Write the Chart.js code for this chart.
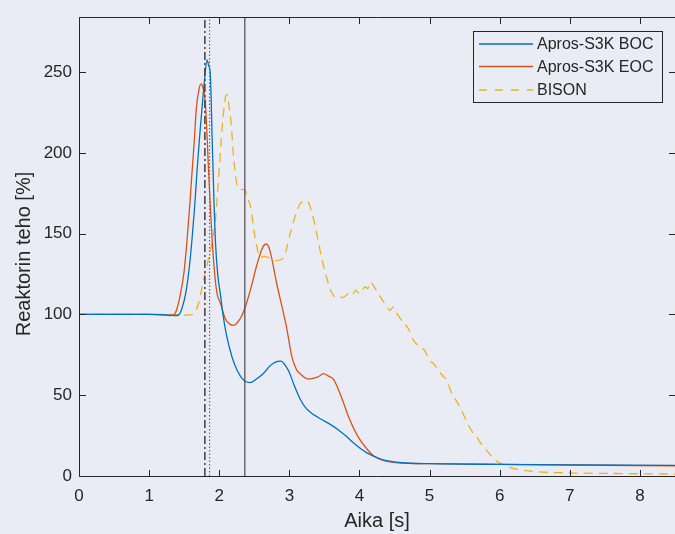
<!DOCTYPE html>
<html>
<head>
<meta charset="utf-8">
<script src="https://cdn.jsdelivr.net/npm/chart.js@4/dist/chart.umd.min.js"></script>
<style>
  html, body { margin: 0; padding: 0; background: #e9ecf5; }
  #wrap { width: 675px; height: 534px; }
</style>
</head>
<body>
<div id="wrap"><canvas id="c" width="675" height="534"></canvas></div>
<script>
// ---- data ----
const seriesLabels = ['Apros-S3K BOC', 'Apros-S3K EOC', 'BISON'];
const xTitle = 'Aika [s]';
const yTitle = 'Reaktorin teho [%]';
const xTicks = [0, 1, 2, 3, 4, 5, 6, 7, 8];
const yTicks = [0, 50, 100, 150, 200, 250];
const xRange = [0, 8.5];
const yRange = [0, 284];
const markerTimes = [1.795, 1.862, 2.365];

const bocTime  = [0, 1.0, 1.3, 1.38, 1.42, 1.47, 1.52, 1.57, 1.61, 1.65, 1.68, 1.72, 1.755, 1.79, 1.826, 1.85, 1.873, 1.90, 1.925, 1.945, 1.98, 2.016, 2.05, 2.1, 2.18, 2.26, 2.35, 2.44, 2.53, 2.63, 2.72, 2.80, 2.88, 2.95, 3.0, 3.07, 3.15, 3.22, 3.3, 3.4, 3.5, 3.6, 3.7, 3.8, 3.9, 4.0, 4.1, 4.2, 4.3, 4.45, 4.6, 5.0, 6.0, 7.0, 8.5];
const bocPower = [100, 100, 99.6, 99.3, 99.6, 104, 112.7, 128, 145.6, 167, 186.8, 210, 228, 245, 257.5, 254, 248.5, 207, 170, 145.6, 124, 112.7, 101, 88, 74, 65, 59.2, 57.8, 60, 63.4, 68, 70.5, 71.1, 68, 64, 56, 48, 43, 39.5, 36.5, 34, 31.5, 28.5, 25, 21, 17.5, 14.5, 12.3, 10.5, 9, 8.2, 7.6, 7.2, 6.9, 6.6];

const eocTime  = [0, 1.0, 1.25, 1.3, 1.356, 1.40, 1.447, 1.50, 1.54, 1.58, 1.61, 1.645, 1.674, 1.71, 1.74, 1.77, 1.80, 1.825, 1.85, 1.875, 1.90, 1.935, 1.97, 2.016, 2.09, 2.15, 2.205, 2.26, 2.32, 2.37, 2.45, 2.54, 2.62, 2.67, 2.72, 2.82, 2.96, 3.035, 3.1, 3.15, 3.27, 3.41, 3.485, 3.55, 3.63, 3.75, 3.85, 3.97, 4.1, 4.21, 4.35, 4.46, 4.7, 5.0, 6.0, 7.0, 8.5];
const eocPower = [100, 100, 99.5, 99.3, 99.8, 104, 112.7, 127, 145.6, 168, 186.8, 208, 227.9, 239, 242.7, 240, 232, 212, 186.8, 165, 145.6, 125, 112.7, 107, 97, 94, 93.2, 95, 99, 104.5, 116, 131.2, 141.5, 143.6, 140, 119, 92, 74, 66, 63.4, 60, 61.3, 63.4, 62, 59.8, 48, 36, 25, 17, 12.2, 9.5, 8.6, 7.8, 7.6, 7.2, 6.8, 6.3];

const bisonTime  = [0, 1.0, 1.4, 1.5, 1.58, 1.636, 1.70, 1.755, 1.80, 1.85, 1.90, 1.945, 1.97, 2.0, 2.04, 2.087, 2.11, 2.14, 2.17, 2.205, 2.25, 2.30, 2.37, 2.40, 2.44, 2.51, 2.585, 2.64, 2.70, 2.80, 2.92, 3.01, 3.10, 3.15, 3.25, 3.34, 3.44, 3.53, 3.63, 3.70, 3.77, 3.85, 3.90, 3.94, 4.0, 4.08, 4.12, 4.15, 4.24, 4.34, 4.39, 4.43, 4.48, 4.53, 4.60, 4.70, 4.77, 4.85, 4.93, 5.0, 5.07, 5.12, 5.2, 5.24, 5.31, 5.43, 5.52, 5.6, 5.67, 5.75, 5.81, 5.9, 5.97, 6.03, 6.19, 6.42, 6.9, 7.5, 8.5];
const bisonPower = [100, 100, 100, 99.5, 99.8, 100.4, 106, 116.8, 126, 135, 145, 158, 172, 190, 215, 234, 236, 229, 218, 197, 181, 177.5, 177, 172, 168, 148, 135.3, 136, 135.3, 133.3, 135.3, 149.7, 163, 168.3, 170.3, 160, 139.4, 123, 111.7, 110.5, 110.6, 113, 112, 115, 113, 117, 116, 120, 115, 108, 105.5, 102.4, 104.5, 101, 96.3, 91, 84, 80.5, 77.7, 71.6, 69, 65.4, 61.5, 59.5, 52, 42.8, 34.6, 28, 24.3, 19, 16, 11.5, 8.8, 7.4, 4.7, 3.1, 2.0, 1.6, 1.2];

// ---- styles ----
const BG = '#e9ecf5';
const AXIS = '#262626';
const FONT = '"Liberation Sans", Arial, Helvetica, sans-serif';
const seriesColors = ['#0072BD', '#D95319', '#EDB120'];
const seriesDash = [[], [], [9, 6]];
const markerStyles = [
  { color: '#4a4a4a', width: 1.6, dash: [8, 3, 2, 3] },
  { color: '#6a6a6a', width: 1.2, dash: [1.5, 2] },
  { color: '#4a4a4a', width: 1.2, dash: [] }
];

function pts(xs, ys) { return xs.map((x, i) => ({ x: x, y: ys[i] })); }

const datasets = [];
markerTimes.forEach((t, i) => {
  datasets.push({
    label: '__marker' + i,
    data: [{ x: t, y: yRange[0] }, { x: t, y: yRange[1] }],
    borderColor: markerStyles[i].color,
    borderWidth: markerStyles[i].width,
    borderDash: markerStyles[i].dash,
    pointRadius: 0, fill: false, tension: 0
  });
});
const seriesData = [pts(bocTime, bocPower), pts(eocTime, eocPower), pts(bisonTime, bisonPower)];
seriesData.forEach((d, i) => {
  datasets.push({
    label: seriesLabels[i],
    data: d,
    borderColor: seriesColors[i],
    borderWidth: 1.3,
    borderDash: seriesDash[i],
    pointRadius: 0, fill: false,
    cubicInterpolationMode: 'monotone'
  });
});

const decor = {
  id: 'decor',
  beforeDraw(chart) {
    const ctx = chart.ctx;
    ctx.save();
    ctx.fillStyle = BG;
    ctx.fillRect(0, 0, chart.width, chart.height);
    ctx.restore();
  },
  afterDraw(chart) {
    const ctx = chart.ctx;
    const a = chart.chartArea;
    const xs = chart.scales.x, ys = chart.scales.y;
    const L = Math.round(a.left) + 0.5, R = Math.round(a.right) + 0.5;
    const T = Math.round(a.top) + 0.5, B = Math.round(a.bottom) + 0.5;
    ctx.save();
    ctx.strokeStyle = AXIS;
    ctx.lineWidth = 1;
    ctx.setLineDash([]);
    ctx.beginPath();
    ctx.moveTo(L, T); ctx.lineTo(R, T); ctx.lineTo(R, B); ctx.lineTo(L, B); ctx.closePath();
    ctx.stroke();
    const tl = 6.5;
    ctx.beginPath();
    xTicks.forEach(v => {
      const px = Math.round(xs.getPixelForValue(v)) + 0.5;
      ctx.moveTo(px, B); ctx.lineTo(px, B - tl);
      ctx.moveTo(px, T); ctx.lineTo(px, T + tl);
    });
    yTicks.forEach(v => {
      const py = Math.round(ys.getPixelForValue(v)) + 0.5;
      ctx.moveTo(L, py); ctx.lineTo(L + tl, py);
      ctx.moveTo(R, py); ctx.lineTo(R - tl, py);
    });
    ctx.stroke();

    // axis titles
    ctx.fillStyle = AXIS;
    ctx.font = '20px ' + FONT;
    ctx.textAlign = 'center';
    ctx.textBaseline = 'alphabetic';
    ctx.fillText(xTitle, (a.left + a.right) / 2, 526.5);
    ctx.save();
    ctx.translate(29.5, 254);
    ctx.rotate(-Math.PI / 2);
    ctx.fillText(yTitle, 0, 0);
    ctx.restore();

    // legend box
    const lx = 473.5, ly = 31.5, lw = 189, lh = 71;
    ctx.fillStyle = BG;
    ctx.fillRect(lx, ly, lw, lh);
    ctx.strokeStyle = AXIS;
    ctx.lineWidth = 1;
    ctx.strokeRect(lx, ly, lw, lh);
    const rows = [44, 66.5, 90];
    ctx.font = '16px ' + FONT;
    ctx.textAlign = 'left';
    ctx.textBaseline = 'middle';
    seriesLabels.forEach((lab, i) => {
      ctx.beginPath();
      ctx.strokeStyle = seriesColors[i];
      ctx.lineWidth = 1.3;
      ctx.setLineDash(seriesDash[i].length ? [8, 8] : []);
      ctx.moveTo(479, rows[i]); ctx.lineTo(533, rows[i]);
      ctx.stroke();
      ctx.setLineDash([]);
      ctx.fillStyle = AXIS;
      ctx.fillText(lab, 537, rows[i] + 1);
    });
    ctx.restore();
  }
};

new Chart(document.getElementById('c'), {
  type: 'line',
  data: { datasets: datasets },
  options: {
    responsive: false,
    animation: false,
    devicePixelRatio: 1,
    layout: { padding: { top: 15, right: -1, left: 0, bottom: 0 } },
    plugins: { legend: { display: false }, tooltip: { enabled: false } },
    scales: {
      x: {
        type: 'linear', min: xRange[0], max: xRange[1],
        grid: { display: false, drawTicks: false },
        border: { display: false },
        afterBuildTicks: s => { s.ticks = xTicks.map(v => ({ value: v })); },
        afterFit: s => { s.height = 58; },
        ticks: { color: AXIS, font: { family: FONT, size: 17 }, padding: 10, maxRotation: 0, autoSkip: false }
      },
      y: {
        type: 'linear', min: yRange[0], max: yRange[1],
        grid: { display: false, drawTicks: false },
        border: { display: false },
        afterBuildTicks: s => { s.ticks = yTicks.map(v => ({ value: v })); },
        afterFit: s => { s.width = 79; },
        ticks: { color: AXIS, font: { family: FONT, size: 17 }, padding: 7, autoSkip: false }
      }
    }
  },
  plugins: [decor]
});
</script>
</body>
</html>
